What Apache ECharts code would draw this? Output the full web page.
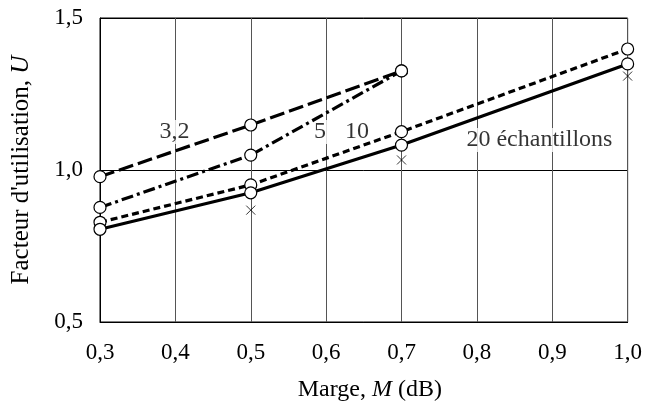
<!DOCTYPE html>
<html>
<head>
<meta charset="utf-8">
<script src="https://cdn.jsdelivr.net/npm/echarts@6/dist/echarts.min.js"></script>
<style>
  html, body { margin: 0; padding: 0; background: #fff; }
  #chart { width: 645px; height: 410px; }
</style>
</head>
<body>
<div id="chart"></div>
<script>
// marges (dB) et facteur d'utilisation
const marges = [0.3, 0.5, 0.7, 1.0]
const u32 = [0.978, 1.148, 1.326]
const u5 = [0.877, 1.049, 1.326]
const u10 = [0.828, 0.951, 1.126, 1.398]
const u20 = [0.805, 0.925, 1.082, 1.349]
const croixMarges = [0.5, 0.7, 1.0]
const croixU = [0.868, 1.033, 1.309]

// étiquettes posées dans le repère des données
const etiquettes = ['3,2', '5', '10', '20 échantillons']
const etiquettesX = [0.399, 0.592, 0.641, 0.883]
const etiquettesU = [1.125, 1.125, 1.125, 1.099]

const police = 'Liberation Serif'
const virgule = v => v.toFixed(1).replace('.', ',')
const paires = (xs, ys) => ys.map((y, i) => [xs[i], y])

const cercle = {
  symbol: 'circle',
  symbolSize: 12,
  itemStyle: { color: '#fff', borderColor: '#000', borderWidth: 1.2 }
}

function courbe(nom, valeurs, dash) {
  return {
    name: nom,
    type: 'line',
    data: paires(marges, valeurs),
    ...cercle,
    lineStyle: { color: '#000', width: 3.2, type: dash },
    z: 3
  }
}

function titre(taille, decalage) {
  return {
    fontFamily: police, fontSize: taille, color: '#000',
    padding: decalage,
    rich: { i: { fontFamily: police, fontSize: taille, fontStyle: 'italic', color: '#000' } }
  }
}

const chart = echarts.init(document.getElementById('chart'), null, { renderer: 'canvas' })
chart.setOption({
  animation: false,
  backgroundColor: '#fff',
  textStyle: { fontFamily: police, color: '#000' },
  grid: {
    left: 100, right: 15, top: 18, bottom: 88,
    show: true, borderColor: '#000', borderWidth: 1
  },
  xAxis: {
    type: 'value',
    min: 0.3, max: 1.0, interval: 0.1,
    name: 'Marge, {i|M} (dB)',
    nameLocation: 'middle',
    nameGap: 56,
    nameTextStyle: titre(24, [0, 0, 0, 12]),
    axisLine: { lineStyle: { color: '#000', width: 1 } },
    axisTick: { show: false },
    axisLabel: { fontFamily: police, fontSize: 23, color: '#000', margin: 19, formatter: virgule },
    splitLine: { show: true, lineStyle: { color: '#555', width: 1 } }
  },
  yAxis: {
    type: 'value',
    min: 0.5, max: 1.5, interval: 0.5,
    name: "Facteur d'utilisation, {i|U}",
    nameLocation: 'middle',
    nameGap: 66,
    nameTextStyle: titre(25, 0),
    axisLine: { show: true, lineStyle: { color: '#000', width: 1 } },
    axisTick: { show: false },
    axisLabel: { fontFamily: police, fontSize: 23, color: '#000', margin: 17, formatter: virgule },
    splitLine: { show: true, lineStyle: { color: '#000', width: 1 } }
  },
  series: [
    {
      name: 'étiquettes',
      type: 'scatter',
      symbol: 'circle',
      symbolSize: 1,
      itemStyle: { color: 'rgba(0,0,0,0)' },
      data: paires(etiquettesX, etiquettesU).map((p, i) => ({ value: p, nom: etiquettes[i] })),
      label: {
        show: true,
        position: 'inside',
        formatter: p => p.data.nom,
        fontFamily: police, fontSize: 24, color: '#000',
        backgroundColor: '#fff', padding: [0, 1]
      },
      silent: true,
      z: 2
    },
    courbe('3,2', u32, [15, 5]),
    courbe('5', u5, [12, 4, 3, 4]),
    courbe('10', u10, [7, 4]),
    courbe('20', u20, 'solid'),
    {
      name: 'croix',
      type: 'scatter',
      data: paires(croixMarges, croixU),
      symbol: 'path://M0,0L10,10M10,0L0,10',
      symbolSize: 9,
      itemStyle: { color: 'none', borderColor: '#000', borderWidth: 1 },
      z: 4
    }
  ]
})
</script>
</body>
</html>
